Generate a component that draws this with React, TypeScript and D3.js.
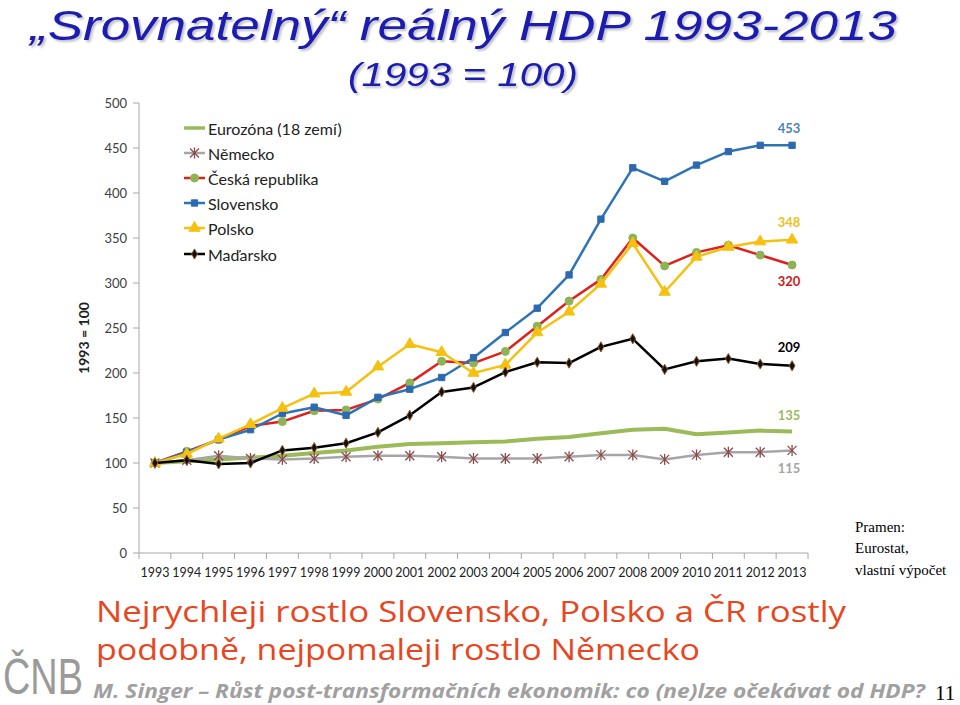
import React from "react";
import * as d3 from "d3";

const years = ["1993","1994","1995","1996","1997","1998","1999","2000","2001","2002","2003","2004","2005","2006","2007","2008","2009","2010","2011","2012","2013"];

const eurozona = [100,102,104,106,108,111,114,118,121,122,123,124,127,129,133,137,138,132,134,136,135];
const nemecko = [100,103,108,105,104,105,107,108,108,107,105,105,105,107,109,109,104,109,112,112,114];
const cesko = [100,113,126,141,146,158,159,171,189,213,211,224,252,280,304,350,319,334,342,331,320];
const slovensko = [100,112,126,137,155,162,153,173,182,195,217,245,272,309,371,428,413,431,446,453,453];
const polsko = [100,110,127,143,161,177,179,207,232,223,200,209,245,268,299,344,290,329,340,346,348];
const madarsko = [100,103,99,100,114,117,122,134,153,179,184,201,212,211,229,238,204,213,216,210,208];

const yTicks = [0,50,100,150,200,250,300,350,400,450,500];
const seriesNames = ["Eurozóna (18 zemí)","Německo","Česká republika","Slovensko","Polsko","Maďarsko"];
const endLabels = ["135","115","320","453","348","209"];

type S = { name: string; values: number[]; line: string; width: number; marker: string; mfill: string; mstroke: string; lab: string; labColor: string; labDy: number };

export default function App() {
  const x = d3.scaleBand<string>().domain(years).range([139, 808]);
  const y = d3.scaleLinear().domain([0, 500]).range([553, 103]);
  const cx = (yr: string) => (x(yr) as number) + x.bandwidth() / 2;
  const line = d3.line<number>().x((_, i) => cx(years[i])).y((v) => y(v));

  const series: S[] = [
    { name: seriesNames[0], values: eurozona, line: "#9BBB59", width: 4, marker: "none", mfill: "", mstroke: "", lab: endLabels[0], labColor: "#9BBB59", labDy: -17 },
    { name: seriesNames[1], values: nemecko, line: "#A6A6A6", width: 2.5, marker: "star", mfill: "", mstroke: "#8C4B4B", lab: endLabels[1], labColor: "#A6A6A6", labDy: 18 },
    { name: seriesNames[2], values: cesko, line: "#E0201B", width: 2.5, marker: "circle", mfill: "#8DB356", mstroke: "#8DB356", lab: endLabels[2], labColor: "#D01818", labDy: 16 },
    { name: seriesNames[3], values: slovensko, line: "#2E74B5", width: 2.5, marker: "square", mfill: "#2E69B0", mstroke: "#2E69B0", lab: endLabels[3], labColor: "#4F81BD", labDy: -17 },
    { name: seriesNames[4], values: polsko, line: "#F5C010", width: 2.5, marker: "triangle", mfill: "#F5C010", mstroke: "#F5C010", lab: endLabels[4], labColor: "#F0C020", labDy: -18 },
    { name: seriesNames[5], values: madarsko, line: "#000000", width: 2.5, marker: "diamond", mfill: "#111", mstroke: "#8B5A2B", lab: endLabels[5], labColor: "#000", labDy: -19 },
  ];

  const sym = (m: string) => {
    if (m === "circle") return d3.symbol(d3.symbolCircle, 50)();
    if (m === "square") return d3.symbol(d3.symbolSquare, 40)();
    if (m === "triangle") return d3.symbol(d3.symbolTriangle, 55)();
    if (m === "diamond") return d3.symbol(d3.symbolDiamond, 30)();
    return null;
  };

  const marker = (s: S, v: number, i: number, legendPos?: [number, number]) => {
    const px = legendPos ? legendPos[0] : cx(years[i]);
    const py = legendPos ? legendPos[1] : y(v);
    if (s.marker === "none") return null;
    if (s.marker === "star") {
      const r = 4.5;
      return (
        <g key={i} transform={`translate(${px},${py})`} stroke={s.mstroke} strokeWidth={1.3}>
          <line x1={-r} y1={-r} x2={r} y2={r} />
          <line x1={-r} y1={r} x2={r} y2={-r} />
          <line x1={0} y1={-r - 1} x2={0} y2={r + 1} />
        </g>
      );
    }
    return <path key={i} d={sym(s.marker) as string} transform={`translate(${px},${py})`} fill={s.mfill} stroke={s.mstroke} strokeWidth={1} />;
  };

  const chartFont = "Lato, 'Open Sans', sans-serif";
  const legendY = [128, 153, 178, 203, 228, 254];

  return (
    <svg width={960} height={705} style={{ position: "absolute", left: 0, top: 0, background: "#fff" }}>
      <defs>
        <filter id="shadow" x="-5%" y="-20%" width="110%" height="150%">
          <feGaussianBlur in="SourceAlpha" stdDeviation="1" />
          <feOffset dx="2" dy="2" result="b" />
          <feComponentTransfer><feFuncA type="linear" slope="0.25" /></feComponentTransfer>
          <feMerge><feMergeNode /><feMergeNode in="SourceGraphic" /></feMerge>
        </filter>
      </defs>
      {/* Titles */}
      <text x={30} y={40} fontFamily="'Liberation Sans', Arial, sans-serif" fontStyle="italic" fontSize={42} fill="#1A1AB0" textLength={867} lengthAdjust="spacingAndGlyphs" filter="url(#shadow)">„Srovnatelný“ reálný HDP 1993-2013</text>
      <text x={348} y={86} fontFamily="'Liberation Sans', Arial, sans-serif" fontStyle="italic" fontSize={33} fill="#1A1AB0" textLength={230} lengthAdjust="spacingAndGlyphs" filter="url(#shadow)">(1993 = 100)</text>

      {/* Axes */}
      <g fontFamily={chartFont} fontSize={13} fill="#404040">
        <line x1={139} y1={103} x2={139} y2={553} stroke="#A6A6A6" />
        {yTicks.map((t) => (
          <g key={t}>
            <line x1={133} x2={139} y1={y(t)} y2={y(t)} stroke="#A6A6A6" />
            <text x={127} y={y(t)} textAnchor="end" dominantBaseline="central">{t}</text>
          </g>
        ))}
        <line x1={139} y1={553} x2={808} y2={553} stroke="#A6A6A6" />
        {years.map((yr) => (
          <line key={"t" + yr} x1={x(yr) as number} x2={x(yr) as number} y1={553} y2={559} stroke="#A6A6A6" />
        ))}
        <line x1={808} x2={808} y1={553} y2={559} stroke="#A6A6A6" />
        {years.map((yr) => (
          <text key={yr} x={cx(yr)} y={577} textAnchor="middle" fontSize={12.5} fill="#222">{yr}</text>
        ))}
        <text transform="translate(89,338) rotate(-90)" textAnchor="middle" fontWeight="bold" fontSize={14} fill="#222">1993 = 100</text>
      </g>

      {/* Series */}
      {series.map((s) => (
        <g key={s.name}>
          <path d={line(s.values) as string} fill="none" stroke={s.line} strokeWidth={s.width} strokeLinejoin="round" />
          {s.values.map((v, i) => marker(s, v, i))}
        </g>
      ))}

      {/* End labels */}
      {series.map((s) => (
        <text key={"l" + s.name} x={cx("2013") - 3} y={y(s.values[s.values.length - 1]) + s.labDy} textAnchor="middle" dominantBaseline="central" fontFamily={chartFont} fontSize={13} fontWeight="bold" fill={s.labColor}>{s.lab}</text>
      ))}

      {/* Legend */}
      {series.map((s, i) => (
        <g key={"lg" + s.name}>
          <line x1={184} x2={205} y1={legendY[i]} y2={legendY[i]} stroke={s.line} strokeWidth={s.width === 4 ? 3.5 : 2.5} />
          {marker(s, 0, 100 + i, [194.5, legendY[i]])}
          <text x={208} y={legendY[i]} dominantBaseline="central" fontFamily={chartFont} fontSize={16} fill="#222">{s.name}</text>
        </g>
      ))}

      {/* Source */}
      <g fontFamily="'Liberation Serif', 'Times New Roman', serif" fontSize={15} fill="#000">
        <text x={855} y={532}>Pramen:</text>
        <text x={855} y={553}>Eurostat,</text>
        <text x={855} y={575}>vlastní výpočet</text>
      </g>

      {/* Bottom texts */}
      <text x={96} y={622} fontFamily="'Open Sans', sans-serif" fontSize={30} fill="#E8461E" textLength={750} lengthAdjust="spacingAndGlyphs">Nejrychleji rostlo Slovensko, Polsko a ČR rostly</text>
      <text x={96} y={660} fontFamily="'Open Sans', sans-serif" fontSize={30} fill="#E8461E" textLength={604} lengthAdjust="spacingAndGlyphs">podobně, nejpomaleji rostlo Německo</text>
      <text x={3} y={694} fontFamily="'Liberation Sans', Arial, sans-serif" fontSize={50} fill="#9A9A9A" textLength={80} lengthAdjust="spacingAndGlyphs">ČNB</text>
      <text x={93} y={698} fontFamily="'Open Sans', sans-serif" fontStyle="italic" fontWeight="bold" fontSize={20} fill="#A0A0A0" textLength={832} lengthAdjust="spacingAndGlyphs">M. Singer – Růst post-transformačních ekonomik: co (ne)lze očekávat od HDP?</text>
      <text x={935} y={700} fontFamily="'Liberation Serif', 'Times New Roman', serif" fontSize={21} fill="#000">11</text>
    </svg>
  );
}
